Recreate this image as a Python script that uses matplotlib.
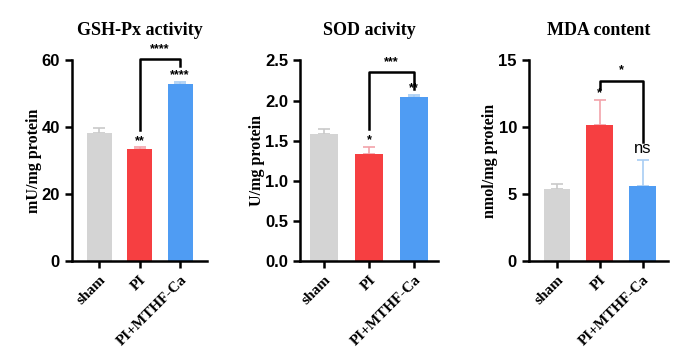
import matplotlib
matplotlib.use("Agg")
import matplotlib.pyplot as plt
import numpy as np

plt.rcParams["font.family"] = ["Liberation Sans", "DejaVu Sans"]

groups = ["sham", "PI", "PI+MTHF-Ca"]

# GSH-Px activity
gsh_mean = [38.4, 33.4, 53.0]
gsh_err = [1.3, 0.6, 0.6]
# SOD activity
sod_mean = [1.58, 1.34, 2.04]
sod_err = [0.07, 0.08, 0.035]
# MDA content
mda_mean = [5.36, 10.16, 5.6]
mda_err = [0.4, 1.9, 1.95]

bar_colors = ["#D4D4D4", "#F63F41", "#4F9CF3"]
err_colors = ["#C9C9C9", "#F2A3AA", "#A8CDF4"]

panels = [
    dict(title="GSH-Px activity", ylabel="mU/mg protein", mean=gsh_mean, err=gsh_err,
         ylim=60, yticks=[0, 20, 40, 60], fmt="{:.0f}",
         pos=[0.106, 0.275, 0.200, 0.557], xlim=(-0.68, 2.67),
         stars=["", "**", "****"], bracket=(1, 2, 60.5, 39.2, 58.4), bstar="****"),
    dict(title="SOD acivity", ylabel="U/mg protein", mean=sod_mean, err=sod_err,
         ylim=2.5, yticks=[0, 0.5, 1.0, 1.5, 2.0, 2.5], fmt="{:.1f}",
         pos=[0.443, 0.275, 0.204, 0.557], xlim=(-0.53, 2.53),
         stars=["", "*", "**"], bracket=(1, 2, 2.36, 1.65, 2.15), bstar="***"),
    dict(title="MDA content", ylabel="nmol/mg protein", mean=mda_mean, err=mda_err,
         ylim=15, yticks=[0, 5, 10, 15], fmt="{:.0f}",
         pos=[0.781, 0.275, 0.206, 0.557], xlim=(-0.66, 2.6),
         stars=["", "*", "ns"], bracket=(1, 2, 13.5, 12.9, 8.9), bstar="*"),
]

fig = plt.figure(figsize=(6.77, 3.6), dpi=100)

for p in panels:
    ax = fig.add_axes(p["pos"])
    x = np.arange(len(groups))
    ax.bar(x, p["mean"], width=0.62, color=bar_colors, zorder=2)
    for i in range(len(groups)):
        ax.errorbar(x[i], p["mean"][i], yerr=[[0], [p["err"][i]]], fmt="none",
                    ecolor=err_colors[i], elinewidth=1.2, capsize=4, capthick=1.2, zorder=1)
    # significance marks above bars
    for i, s in enumerate(p["stars"]):
        if not s:
            continue
        top = p["mean"][i] + p["err"][i]
        if s == "ns":
            ax.text(x[i], top + p["ylim"] * 0.02, s, ha="center", va="bottom", fontsize=12)
        else:
            ax.text(x[i], top + p["ylim"] * 0.003, s, ha="center", va="bottom", fontsize=9,
                    fontweight="bold")
    # comparison bracket
    a, b, ytop, yl, yr = p["bracket"]
    ax.plot([a, a, b, b], [yl, ytop, ytop, yr], color="black", lw=1.8, clip_on=False, zorder=3)
    ax.text((a + b) / 2, ytop + p["ylim"] * 0.02, p["bstar"], ha="center", va="bottom",
            fontsize=9, fontweight="bold")

    ax.set_xlim(*p["xlim"])
    ax.set_ylim(0, p["ylim"])
    ax.set_yticks(p["yticks"])
    ax.set_yticklabels([p["fmt"].format(t) for t in p["yticks"]], fontsize=12, fontweight="bold")
    ax.set_xticks(x)
    ax.set_xticklabels(groups, rotation=45, ha="right", rotation_mode="anchor",
                       fontsize=11, fontweight="bold", family="Liberation Serif")
    ax.spines["top"].set_visible(False)
    ax.spines["right"].set_visible(False)
    for sp in ["left", "bottom"]:
        ax.spines[sp].set_linewidth(1.8)
    ax.tick_params(axis="both", width=1.8, length=5)
    ax.set_ylabel(p["ylabel"], fontsize=11.5, fontweight="bold", family="Liberation Serif",
                  labelpad=0)
    ax.set_title(p["title"], fontsize=13, fontweight="bold", family="Liberation Serif", pad=18)

fig.savefig("out.png", dpi=100)
